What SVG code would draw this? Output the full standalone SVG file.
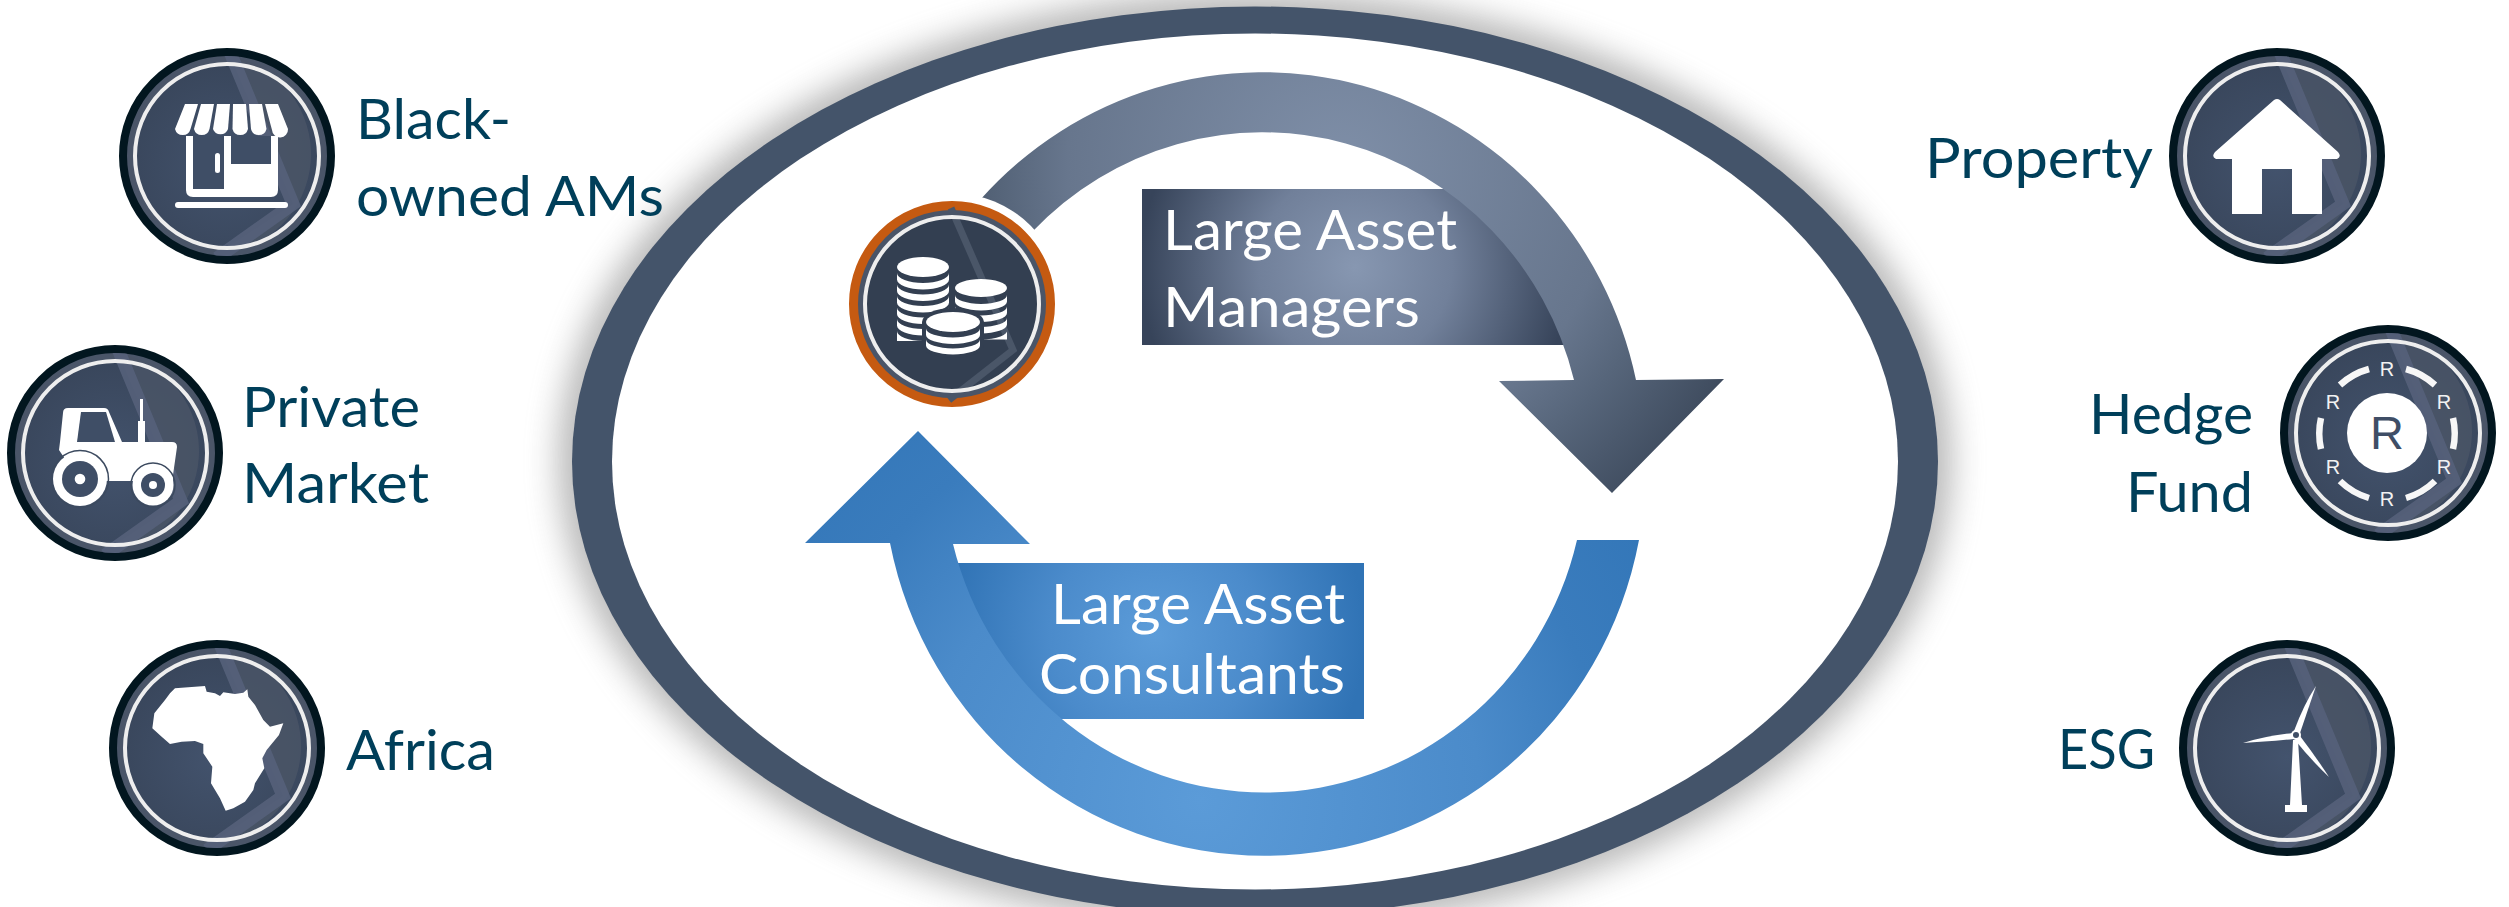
<svg xmlns="http://www.w3.org/2000/svg" xmlns:xlink="http://www.w3.org/1999/xlink" width="2509" height="907" viewBox="0 0 2509 907">
<style>
.lbl{font-family:"Lato","Carlito","Liberation Sans",sans-serif;font-size:57px;fill:#003f5a}
.wht{font-family:"Lato","Carlito","Liberation Sans",sans-serif;font-size:57px;fill:#fff}
.r{font-family:"Liberation Sans",Arial,sans-serif;font-size:20px;fill:#f2f2f2;text-anchor:middle}
.ic{fill:#fff}
.gap{fill:none;stroke:#3c4a5f}
</style>
<defs>
<filter id="blur" filterUnits="userSpaceOnUse" x="450" y="-150" width="1620" height="1220"><feGaussianBlur stdDeviation="16"/></filter>
<radialGradient id="bf" cx=".5" cy=".55" r=".6"><stop offset="0" stop-color="#43536d"/><stop offset="1" stop-color="#38455a"/></radialGradient>
<radialGradient id="topArrow" gradientUnits="userSpaceOnUse" cx="1340" cy="170" r="470"><stop offset="0" stop-color="#7f8fa8"/><stop offset=".58" stop-color="#67768d"/><stop offset=".72" stop-color="#56657a"/><stop offset="1" stop-color="#374355"/></radialGradient>
<radialGradient id="topRect" gradientUnits="userSpaceOnUse" cx="1355" cy="267" r="215"><stop offset="0" stop-color="#8797b1"/><stop offset=".45" stop-color="#71809a"/><stop offset="1" stop-color="#37445a"/></radialGradient>
<radialGradient id="botArrow" gradientUnits="userSpaceOnUse" cx="1200" cy="800" r="560"><stop offset="0" stop-color="#5b9bd8"/><stop offset=".5" stop-color="#4b8bca"/><stop offset=".72" stop-color="#3a7cbd"/><stop offset="1" stop-color="#3175b7"/></radialGradient>
<radialGradient id="botRect" gradientUnits="userSpaceOnUse" cx="1155" cy="635" r="210"><stop offset="0" stop-color="#5c9cd9"/><stop offset=".5" stop-color="#4b8bcb"/><stop offset="1" stop-color="#3073b5"/></radialGradient>
<clipPath id="bc"><circle r="100"/></clipPath>
<g id="badge">
<circle r="104" fill="#4a5568" stroke="#02161f" stroke-width="8"/>
<circle r="92" fill="url(#bf)"/>
<g clip-path="url(#bc)">
<path d="M3,-100 L66,48 L-10,98 A100 100 0 0 0 3,-100Z" fill="#4a5566" opacity=".85"/>
<path d="M3,-104 L66,48 L-10,102" fill="none" stroke="#55617a" stroke-width="13" opacity=".9"/>
</g>
<circle r="92" fill="none" stroke="#eeeeee" stroke-width="4"/>
</g>
</defs>

<g id="oval">
<ellipse cx="1255" cy="461" rx="697" ry="469" fill="#808080" opacity=".55" filter="url(#blur)"/>
<ellipse cx="1255" cy="461.500" rx="683" ry="455" fill="#44546a"/>
<ellipse cx="1255" cy="461.500" rx="643" ry="428" fill="#fff"/>
</g>

<g id="label-managers">
<path d="M1142,189 H1480 L1590,345 H1142Z" fill="url(#topRect)"/>
<text class="wht" x="1163" y="250" textLength="294" lengthAdjust="spacingAndGlyphs">Large Asset</text>
<text class="wht" x="1163" y="327" textLength="257" lengthAdjust="spacingAndGlyphs">Managers</text>
</g>
<g id="label-consultants">
<path d="M930,563 H1364 V719 H1020Z" fill="url(#botRect)"/>
<text class="wht" x="1051" y="624" textLength="294" lengthAdjust="spacingAndGlyphs">Large Asset</text>
<text class="wht" x="1039" y="694" textLength="306" lengthAdjust="spacingAndGlyphs">Consultants</text>
</g>

<g id="connectors">
<path fill="url(#topArrow)" d="M980,200 A381.6 389 0 0 1 1636,380 L1724,379 L1612,493 L1499,381 L1574,380 A321 327.5 0 0 0 1032,232 Z"/>
<path fill="url(#botArrow)" d="M1639,540 A381.6 389 0 0 1 890,543 L805,543 L918,431 L1030,544 L953,544 A321 327.5 0 0 0 1577,540 Z"/>
</g>

<g id="node-coins">
<circle cx="952" cy="304" r="111" fill="#fff"/>
<circle cx="952" cy="304" r="98.500" fill="#4a5568" stroke="#c55a11" stroke-width="9"/>
<circle cx="952" cy="304" r="87" fill="#333f51"/>
<path d="M951,208 L1013,350 L949,400" fill="none" stroke="#4a5668" stroke-width="7"/>
<circle cx="952" cy="304" r="87" fill="none" stroke="#eeeeee" stroke-width="4"/>
<g class="ic">
<ellipse cx="923" cy="267" rx="26" ry="10"/>
<path d="M897,273 A26 10 0 0 0 949,273 V279.500 A26 10 0 0 1 897,279.500Z"/>
<path d="M897,284.500 A26 10 0 0 0 949,284.500 V291 A26 10 0 0 1 897,291Z"/>
<path d="M897,296 A26 10 0 0 0 949,296 V302.500 A26 10 0 0 1 897,302.500Z"/>
<path d="M897,307.500 A26 10 0 0 0 949,307.500 V314 A26 10 0 0 1 897,314Z"/>
<path d="M897,319 A26 10 0 0 0 949,319 V325.500 A26 10 0 0 1 897,325.500Z"/>
<path d="M897,331 A26 10 0 0 0 923,341 H897Z"/>
<ellipse cx="981" cy="288" rx="26" ry="9"/>
<path d="M955,295 A26 9 0 0 0 1007,295 V301.500 A26 9 0 0 1 955,301.500Z"/>
<path d="M955,306.500 A26 9 0 0 0 1007,306.500 V313 A26 9 0 0 1 955,313Z"/>
<path d="M955,318 A26 9 0 0 0 1007,318 V324.500 A26 9 0 0 1 955,324.500Z"/>
<path d="M1007,329.500 A26 9 0 0 1 981,339.500 H1007Z"/>
</g>
<path d="M922,322 A31 14 0 0 1 984,322 V345 A31 13 0 0 1 922,345Z" fill="#333f51"/>
<g class="ic">
<ellipse cx="953" cy="322" rx="27" ry="10"/>
<path d="M926,328.500 A27 9 0 0 0 980,328.500 V335 A27 9 0 0 1 926,335Z"/>
<path d="M926,339.500 A27 9 0 0 0 980,339.500 V345.500 A27 9 0 0 1 926,345.500Z"/>
</g>
</g>

<g id="node-black-owned">
<use href="#badge" xlink:href="#badge" transform="translate(227 156)"/>
<g class="ic">
<path d="M186,136 H278 V190 Q278,197 271,197 H193 Q186,197 186,190Z"/>
</g>
<path d="M193,136 H224 V189 H193Z M231,136 H271 V164 H231Z" fill="#3f4e66"/>
<g class="ic">
<path d="M185,104 H198 L190.500,129 A8 8 0 0 1 175,129Z"/>
<path d="M201,104 H214 L209.500,129 A8 8 0 0 1 194,129Z"/>
<path d="M217,104 H230 L228,129 A8 8 0 0 1 213,129Z"/>
<path d="M233,104 H246 L248,129 A8 8 0 0 1 232.500,129Z"/>
<path d="M249,104 H262 L266.500,129 A8 8 0 0 1 251,129Z"/>
<path d="M265,104 H278 L288,129 A8 8 0 0 1 272,130Z"/>
<rect x="215" y="153" width="5" height="20" rx="2.500"/>
<rect x="175" y="202" width="113" height="6" rx="3"/>
</g>
<text class="lbl" x="356" y="139" textLength="155" lengthAdjust="spacingAndGlyphs">Black-</text>
<text class="lbl" x="356" y="216" textLength="308" lengthAdjust="spacingAndGlyphs">owned AMs</text>
</g>

<g id="node-private-market">
<use href="#badge" xlink:href="#badge" transform="translate(115 453)"/>
<path class="ic" d="M68,408 H104 Q108,408 109,412 L122,442 H172 Q177,442 177,447 L173,475 V481 H100 V481 H80 L63,456 L59,450 L60,442 L63,413 Q63,408 68,408Z"/>
<path d="M81,412 H106 L115,442 H77Z" fill="#3f4e66"/>
<path class="ic" d="M140,399 H143 V421 H145 V442 H138 V421 H140Z"/>
<circle cx="80" cy="479" r="28.500" class="gap" stroke-width="1.500"/>
<circle cx="153" cy="485" r="22" class="gap" stroke-width="1.500"/>
<g class="ic"><circle cx="80" cy="479" r="27"/><circle cx="153" cy="485" r="20.500"/></g>
<circle cx="80" cy="479" r="18" fill="#3f4e66"/><circle cx="153" cy="485" r="12" fill="#3f4e66"/>
<g class="ic"><circle cx="80" cy="479" r="5.300"/><circle cx="153" cy="485" r="4"/></g>
<text class="lbl" x="242" y="427" textLength="178" lengthAdjust="spacingAndGlyphs">Private</text>
<text class="lbl" x="242" y="503" textLength="187" lengthAdjust="spacingAndGlyphs">Market</text>
</g>

<g id="node-africa">
<use href="#badge" xlink:href="#badge" transform="translate(217 748)"/>
<polygon class="ic" transform="translate(135 670) scale(.3333)" points="120,55 160,52 210,48 215,65 240,70 255,78 265,67 300,72 325,68 337,58 340,80 360,105 385,150 405,170 445,160 432,195 395,240 382,265 388,295 360,340 355,360 330,395 295,415 272,422 255,385 228,340 232,290 205,250 205,222 180,213 140,215 105,222 80,200 52,175 58,130 90,90 105,70"/>
<text class="lbl" x="346" y="770" textLength="149" lengthAdjust="spacingAndGlyphs">Africa</text>
</g>

<g id="node-property">
<use href="#badge" xlink:href="#badge" transform="translate(2277 156)"/>
<path class="ic" d="M2274,100 Q2277,98 2280,100 L2338,152 Q2342,157 2337,159 H2322 V214 H2292 V169 H2262 V214 H2232 V159 H2216 Q2211,157 2215,152Z"/>
<text class="lbl" x="1925" y="178" textLength="228" lengthAdjust="spacingAndGlyphs">Property</text>
</g>

<g id="node-hedge-fund">
<use href="#badge" xlink:href="#badge" transform="translate(2388 433)"/>
<circle cx="2387" cy="433" r="40" class="ic"/>
<text x="2387" y="449" style="font-family:'Liberation Sans',Arial,sans-serif;font-size:47px;fill:#3f4e66;text-anchor:middle">R</text>
<text class="r" x="2387" y="376">R</text><text class="r" x="2387" y="506">R</text>
<text class="r" x="2333" y="409">R</text><text class="r" x="2444" y="409">R</text>
<text class="r" x="2333" y="474">R</text><text class="r" x="2444" y="474">R</text>
<g fill="none" stroke="#f7f7f7" stroke-width="6.500">
<path d="M2340,385 A70 70 0 0 1 2369,369"/><path d="M2406,369 A70 70 0 0 1 2435,385"/>
<path d="M2453,418 A70 70 0 0 1 2453,449"/><path d="M2435,481 A70 70 0 0 1 2406,498"/>
<path d="M2369,498 A70 70 0 0 1 2340,481"/><path d="M2321,449 A70 70 0 0 1 2321,418"/>
</g>
<text class="lbl" x="2089" y="434" textLength="164" lengthAdjust="spacingAndGlyphs">Hedge</text>
<text class="lbl" x="2126" y="512" textLength="127" lengthAdjust="spacingAndGlyphs">Fund</text>
</g>

<g id="node-esg">
<use href="#badge" xlink:href="#badge" transform="translate(2287 748)"/>
<g class="ic">
<path d="M2293,740 H2298 L2302,805 H2307 V812 H2285 V805 H2290Z"/>
<path d="M2316,686 L2300,733 L2294,731 Q2304,704 2316,686Z"/>
<path d="M2243,743 Q2265,736 2293,733 L2294,739 Q2265,742 2243,743Z"/>
<path d="M2329,777 Q2311,760 2295,740 L2300,736 Q2316,757 2329,777Z"/>
<circle cx="2296" cy="735" r="5"/>
</g>
<circle cx="2296" cy="735" r="3" fill="#3f4e66"/>
<text class="lbl" x="2058" y="769" textLength="97" lengthAdjust="spacingAndGlyphs">ESG</text>
</g>
</svg>
